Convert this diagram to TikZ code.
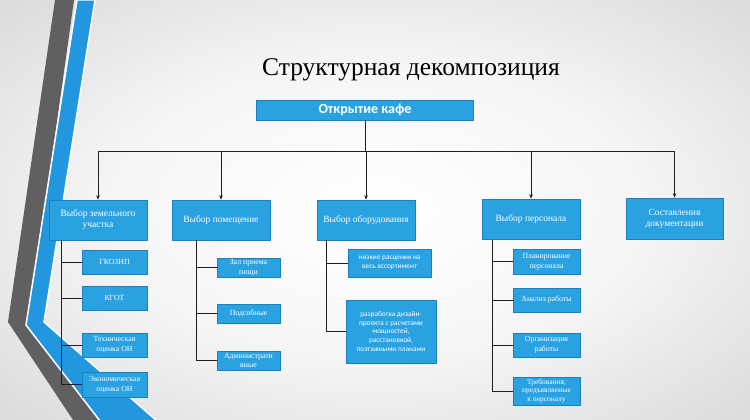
\documentclass[tikz,border=0pt]{standalone}
\usepackage{fontspec}
\setmainfont{Liberation Serif}
\newfontfamily\carl{Carlito}
\usetikzlibrary{arrows.meta,calc}
\definecolor{boxblue}{RGB}{42,162,226}
\definecolor{boxedge}{RGB}{26,128,190}
\definecolor{stripeblue}{RGB}{34,150,222}
\definecolor{stripegray}{RGB}{96,96,98}
\definecolor{linecol}{RGB}{30,30,30}
\pgfdeclareradialshading{bgshade}{\pgfpoint{0bp}{0bp}}{color(0bp)=(white); color(18bp)=(white!96!black); color(40bp)=(black!17); color(100bp)=(black!20)}
\begin{document}
\begin{tikzpicture}[x=1pt,y=-1pt,
  box/.style={fill=boxblue,draw=boxedge,line width=0.6pt,text=white,align=center,inner sep=1pt},
  lvlone/.style={box,minimum width=98pt,minimum height=40pt,font=\fontsize{9.5}{11}\selectfont},
  kid/.style={box,font=\fontsize{7.8}{9.8}\selectfont},
  kidsans/.style={box,font=\carl\fontsize{7.3}{8.6}\selectfont},
  conn/.style={draw=linecol,line width=0.7pt},
  arr/.style={conn,-{Stealth[length=4.5pt,width=3.5pt]}}]
\useasboundingbox (0,0) rectangle (750,420);
\shade[shading=bgshade] (0,0) rectangle (750,420);
% decorative stripes
\fill[stripegray] (55,0) -- (74,0) -- (30,315) -- (100,420) -- (73,420) -- (8,322) -- cycle;
\filldraw[fill=stripeblue,draw=white,line width=1.5pt] (77,0) -- (95,0) -- (44,322) -- (157,421) -- (100,421) -- (26,325) -- cycle;
% title
\node (title) at (411,70) {\fontsize{25.5}{30}\selectfont Структурная декомпозиция};
% top node
\node[box,minimum width=217pt,minimum height=20pt,font=\carl\bfseries\fontsize{14}{16}\selectfont] (top) at (365,110) {Открытие кафе};
\coordinate (bus) at (0,151);
% level one
\node[lvlone] (L1) at (98,220) {Выбор земельного\\участка};
\node[lvlone] (L2) at (221,220) {Выбор помещение};
\node[lvlone] (L3) at (366,220) {Выбор оборудования};
\node[lvlone] (L4) at (531,219) {Выбор персонала};
\node[lvlone,minimum width=97pt,minimum height=41pt] (L5) at (674.5,218.5) {Составления\\документации};
\foreach \n in {L1,L2,L3,L4,L5}
  \draw[arr] (top.south) -- (top.south |- bus) -| (\n.north);
% column 1
\node[kid,minimum width=65pt,minimum height=24pt] (c11) at (114.5,262) {ГКОЗНП};
\node[kid,minimum width=65pt,minimum height=24pt] (c12) at (114.5,298) {КГОТ};
\node[kid,minimum width=65pt,minimum height=24pt] (c13) at (114.5,345) {Техническая\\оценка ОН};
\node[kid,minimum width=65pt,minimum height=25pt] (c14) at (114.5,384.5) {Экономическая\\оценка ОН};
\coordinate (t1) at (61,240);
\foreach \n in {c11,c12,c13,c14} \draw[conn] (t1) |- (\n.west);
% column 2
\node[kid,minimum width=63pt,minimum height=19pt] (c21) at (248.5,267.5) {Зал приема\\пищи};
\node[kid,minimum width=63pt,minimum height=19pt] (c22) at (248.5,313.5) {Подсобные};
\node[kid,minimum width=63pt,minimum height=19pt] (c23) at (248.5,360.5) {Администрати\\вные};
\coordinate (t2) at (196,240);
\foreach \n in {c21,c22,c23} \draw[conn] (t2) |- (\n.west);
% column 3
\node[kidsans,minimum width=83pt,minimum height=28pt] (c31) at (389.5,263) {низкие расценки на\\весь ассортимент};
\node[kidsans,minimum width=90pt,minimum height=63pt] (c32) at (391,331.5) {разработка дизайн-\\проекта с расчетами\\мощностей,\\расстановкой,\\поэтажными планами};
\coordinate (t3) at (326,240);
\foreach \n in {c31,c32} \draw[conn] (t3) |- (\n.west);
% column 4
\node[kid,minimum width=67pt,minimum height=25pt] (c41) at (546.5,261.5) {Планирование\\персонала};
\node[kid,minimum width=67pt,minimum height=24pt] (c42) at (546.5,300) {Анализ работы};
\node[kid,minimum width=67pt,minimum height=24pt] (c43) at (546.5,345) {Организация\\работы};
\node[kid,minimum width=67pt,minimum height=28pt,font=\fontsize{7.4}{8.8}\selectfont] (c44) at (546.5,391) {Требования,\\предъявляемые\\к персоналу};
\coordinate (t4) at (492,240);
\foreach \n in {c41,c42,c43,c44} \draw[conn] (t4) |- (\n.west);
\end{tikzpicture}
\end{document}
